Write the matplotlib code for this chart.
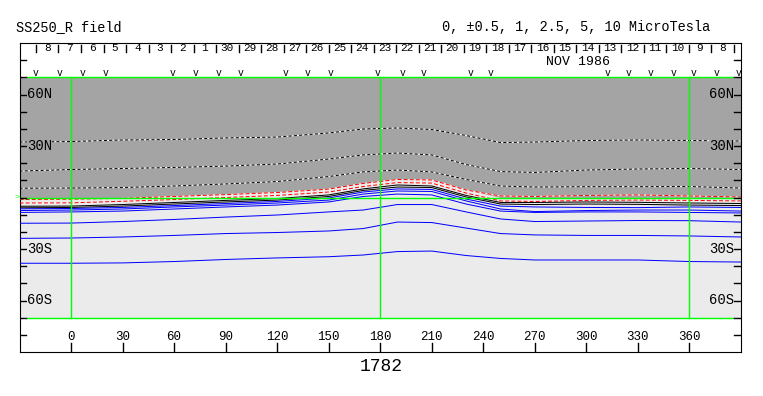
import matplotlib.pyplot as plt

plt.rcParams['font.family'] = ['Liberation Mono', 'DejaVu Sans Mono']
plt.rcParams['lines.scale_dashes'] = False

lons = [-30, 0, 30, 60, 90, 120, 150, 170, 190, 210, 230, 250, 270, 300, 330, 360, 390]

# dashed (negative) contours in the north, latitude in degrees
neg_1 = [32.3, 32.6, 33.5, 33.8, 34.7, 35.2, 37.6, 39.9, 40.5, 39.6, 36.1, 32.0, 32.3, 33.2, 33.5, 33.2, 32.9]
neg_2 = [15.4, 16.3, 16.9, 17.5, 18.3, 19.5, 22.4, 24.8, 25.9, 24.8, 19.2, 15.1, 14.6, 16.0, 16.6, 16.9, 16.3]
neg_3 = [5.4, 5.5, 5.8, 6.7, 7.9, 9.3, 12.2, 14.9, 16.0, 14.9, 10.5, 6.7, 6.1, 6.3, 6.3, 6.4, 5.5]

# polarity boundary (edge of the dark shading)
neutral = [-0.4, -0.4, -0.2, 0.9, 2.0, 3.2, 5.2, 8.4, 10.8, 10.5, 4.7, 0.0, -0.4, -0.4, -0.4, -0.4, -0.4]

# +-0.5 contours (red dashed)
red_1 = [-1.2, -1.0, -0.5, 0.6, 1.7, 2.9, 4.9, 8.2, 10.5, 10.2, 4.4, 0.9, 0.6, 1.2, 1.5, 0.9, 0.3]
red_2 = [-3.2, -3.1, -2.2, -1.2, 0.0, 1.2, 3.2, 6.4, 8.7, 8.4, 2.6, -2.0, -2.3, -1.7, -1.5, -1.7, -2.0]

# zero lines (black solid)
zero_1 = [-5.1, -5.0, -4.1, -2.9, -1.7, -0.6, 1.5, 5.0, 7.3, 6.7, 1.2, -2.9, -2.9, -2.6, -2.8, -3.2, -3.5]
zero_2 = [-6.0, -5.8, -5.0, -3.8, -2.6, -1.5, 0.6, 4.1, 6.1, 5.8, 0.3, -3.8, -4.1, -3.8, -4.0, -4.4, -4.7]

# positive contours (blue solid)
pos_1 = [-6.6, -6.4, -5.8, -4.7, -3.5, -2.3, -0.3, 3.2, 5.0, 4.7, -0.9, -5.0, -5.5, -5.8, -5.9, -5.5, -5.8]
pos_2 = [-7.6, -7.3, -6.7, -5.5, -4.4, -3.2, -1.5, 2.0, 3.8, 3.5, -2.0, -6.7, -8.2, -7.6, -7.3, -7.3, -7.9]
pos_3 = [-8.7, -8.4, -7.9, -6.7, -5.5, -4.4, -2.6, 0.6, 2.0, 1.5, -3.8, -7.9, -8.7, -8.4, -8.4, -8.7, -9.0]
pos_4 = [-15.0, -14.9, -14.0, -12.8, -11.4, -10.2, -8.4, -7.3, -4.1, -4.1, -8.4, -12.5, -14.0, -13.7, -13.4, -13.5, -14.3]
pos_5 = [-23.8, -23.6, -23.0, -22.1, -21.0, -20.4, -19.5, -18.1, -14.3, -14.6, -17.8, -21.0, -21.8, -22.1, -22.1, -22.4, -23.0]
pos_6 = [-38.3, -38.3, -38.1, -37.3, -36.1, -35.2, -34.5, -33.5, -31.5, -31.2, -33.8, -35.5, -36.4, -36.4, -36.4, -37.3, -37.6]

# observation dates along the top
day_labels = ['8', '7', '6', '5', '4', '3', '2', '1', '30', '29', '28', '27', '26', '25', '24',
              '23', '22', '21', '20', '19', '18', '17', '16', '15', '14', '13', '12', '11', '10', '9', '8']
first_day_edge = -20.4
day_step = 13.1
obs_lons = [-20.4, -6.4, 7.0, 20.4, 59.3, 72.7, 86.1, 98.9, 125.0, 137.8, 151.2, 178.6, 193.1,
            205.3, 232.6, 244.3, 312.3, 324.5, 337.3, 350.8, 362.4, 376.0, 388.4]

lon_ticks = list(range(0, 361, 30))
lat_labels = {60: '60N', 30: '30N', -30: '30S', -60: '60S'}

dark = '#a4a4a4'
light = '#ebebeb'
green = '#00ff00'
lw = 0.72
glw = 1.0

fig = plt.figure(figsize=(7.63, 3.96), dpi=100)
ax = fig.add_axes([19.5 / 763, 44 / 396, 721.5 / 763, 309 / 396])
ax.set_xlim(-30, 390)
ax.set_ylim(-90, 90)
ax.set_xticks([])
ax.set_yticks([])
for s in ax.spines.values():
    s.set_linewidth(0.8)

# shading
ax.fill_between([-30, 390], -70, 70, color=light, lw=0, zorder=1)
ax.fill_between(lons, neutral, 70, color=dark, lw=0, zorder=1)

# dashed black/white and red contours, solid zero and positive ones
for line in [neg_1, neg_2, neg_3]:
    ax.plot(lons, line, color='white', lw=lw, zorder=2)
    ax.plot(lons, line, color='black', lw=lw, dashes=(2.2, 1.6), zorder=3)
for line in [red_1, red_2]:
    ax.plot(lons, line, color='white', lw=lw, zorder=2)
    ax.plot(lons, line, color='red', lw=lw, dashes=(2.9, 1.5), zorder=3)
for line in [zero_1, zero_2]:
    ax.plot(lons, line, color='black', lw=lw, zorder=3)
for line in [pos_1, pos_2, pos_3, pos_4, pos_5, pos_6]:
    ax.plot(lons, line, color='blue', lw=lw, zorder=3)

# green grid
ax.axhline(0, color=green, lw=glw, zorder=4)
ax.plot([-25.5, 386], [70, 70], color=green, lw=glw, zorder=4)
ax.plot([-25.5, 386], [-70, -70], color=green, lw=glw, zorder=4)
for x in [0, 180, 360]:
    ax.plot([x, x], [-70, 70], color=green, lw=glw, zorder=4)
ax.text(-31.2, 0, '>', color=green, fontsize=6, ha='center', va='center', clip_on=False)

# latitude ticks on both sides
for lat in range(-80, 90, 10):
    ax.plot([-30, -26.1], [lat, lat], color='black', lw=glw, zorder=5)
    ax.plot([390, 386.1], [lat, lat], color='black', lw=glw, zorder=5)
for lat, txt in lat_labels.items():
    bg = dark if lat > 0 else light
    ax.text(-25.8, lat, txt, fontsize=10, ha='left', va='center', zorder=6,
            bbox=dict(facecolor=bg, edgecolor='none', pad=0))
    ax.text(385.8, lat, txt, fontsize=10, ha='right', va='center', zorder=6,
            bbox=dict(facecolor=bg, edgecolor='none', pad=0))

# longitude ticks
for lon in lon_ticks:
    ax.plot([lon, lon], [-90, -85], color='black', lw=glw)
    ax.text(lon, -81.4, str(lon), fontsize=9, ha='center', va='center')

# date strip
for i in range(len(day_labels) + 1):
    x = first_day_edge + i * day_step
    if x < 390:
        ax.plot([x, x], [88.8, 85.0], color='black', lw=glw)
for i, d in enumerate(day_labels):
    ax.text(first_day_edge + (i + 0.5) * day_step, 87.0, d, fontsize=8, ha='center', va='center')
for x in obs_lons:
    ax.text(x, 72.6, 'v', fontsize=7, ha='center', va='center', clip_on=True)
ax.text(295, 79.1, 'NOV 1986', fontsize=9.5, ha='center', va='center')

fig.text(16 / 763, 1 - 27.5 / 396, 'SS250_R field', fontsize=9.8, ha='left', va='center')
fig.text(710 / 763, 1 - 27.5 / 396, '0, \u00b10.5, 1, 2.5, 5, 10 MicroTesla', fontsize=9.8,
         ha='right', va='center')
fig.text(381 / 763, 1 - 366.5 / 396, '1782', fontsize=13, ha='center', va='center')

fig.savefig('out.png', dpi=100)
